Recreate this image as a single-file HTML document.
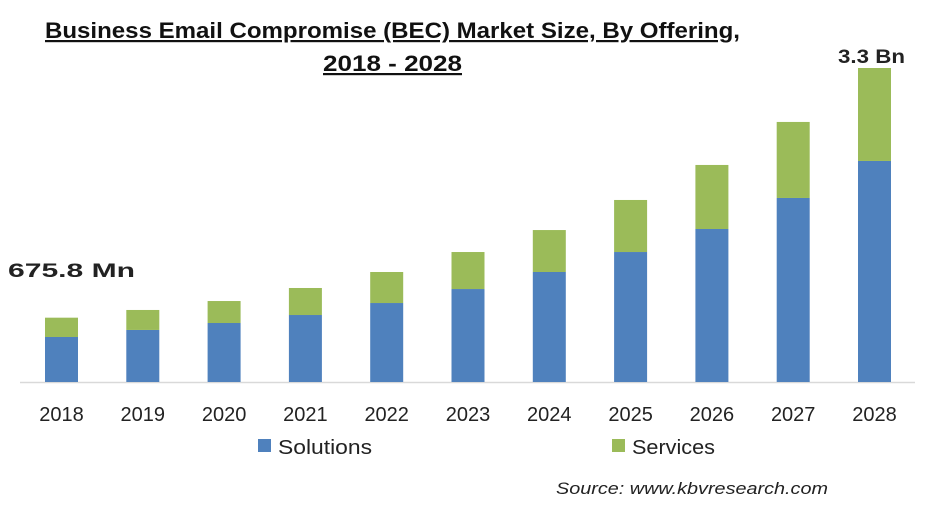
<!DOCTYPE html>
<html><head><meta charset="utf-8"><style>
body{margin:0;background:#fff;width:936px;height:514px;overflow:hidden;font-family:"Liberation Sans",sans-serif}
</style></head><body>
<svg width="936" height="514" xmlns="http://www.w3.org/2000/svg">
<g font-weight="bold" font-size="22" fill="#111" text-decoration="underline">
<text x="45" y="38" textLength="695" lengthAdjust="spacingAndGlyphs">Business Email Compromise (BEC) Market Size, By Offering,</text>
<text x="323" y="71" textLength="139" lengthAdjust="spacingAndGlyphs">2018 - 2028</text>
</g>
<line x1="20" y1="382.5" x2="915" y2="382.5" stroke="#d9d9d9" stroke-width="1.5"/>
<g id="bars"></g>
<g id="xlabels" font-size="20" fill="#222" text-anchor="middle"></g>
<text x="8" y="277" font-size="19" font-weight="bold" fill="#222" textLength="127" lengthAdjust="spacingAndGlyphs">675.8  Mn</text>
<text x="838" y="63" font-size="19" font-weight="bold" fill="#222" textLength="67" lengthAdjust="spacingAndGlyphs">3.3  Bn</text>
<g font-size="20" fill="#222">
<rect x="258" y="439" width="13" height="13" fill="#4f81bd"/>
<text x="278" y="454" textLength="94" lengthAdjust="spacingAndGlyphs">Solutions</text>
<rect x="612" y="439" width="13" height="13" fill="#9bbb59"/>
<text x="632" y="454" textLength="83" lengthAdjust="spacingAndGlyphs">Services</text>
</g>
<text x="556" y="494" font-size="17" font-style="italic" fill="#222" textLength="272" lengthAdjust="spacingAndGlyphs">Source:  www.kbvresearch.com</text>
</svg>
<script>
const categories=["2018","2019","2020","2021","2022","2023","2024","2025","2026","2027","2028"];
const solutions=[473,547,620,704,830,977,1156,1366,1608,1934,2323];
const services=[203,210,231,284,326,389,441,547,673,799,977];
const yMax=3300;
const baseY=382, plotH=314, x0=45, step=81.3, bw=33;
const y=v=>v/yMax*plotH;
const xs=i=>x0+i*step;
const ns="http://www.w3.org/2000/svg";
const gb=document.getElementById('bars'), gl=document.getElementById('xlabels');
categories.forEach((c,i)=>{
  const hs=y(solutions[i]), hv=y(services[i]);
  const r1=document.createElementNS(ns,'rect');
  r1.setAttribute('x',xs(i));r1.setAttribute('width',bw);
  r1.setAttribute('y',baseY-hs);r1.setAttribute('height',hs);r1.setAttribute('fill','#4f81bd');
  
  
  gb.appendChild(r1);
  const r2=document.createElementNS(ns,'rect');
  r2.setAttribute('x',xs(i));r2.setAttribute('width',bw);
  r2.setAttribute('y',baseY-hs-hv);r2.setAttribute('height',hv);r2.setAttribute('fill','#9bbb59');
  
  
  gb.appendChild(r2);
  const t=document.createElementNS(ns,'text');
  t.setAttribute('x',xs(i)+bw/2);t.setAttribute('y',421);t.textContent=c;
  
  
  gl.appendChild(t);
});
</script>
</body></html>
